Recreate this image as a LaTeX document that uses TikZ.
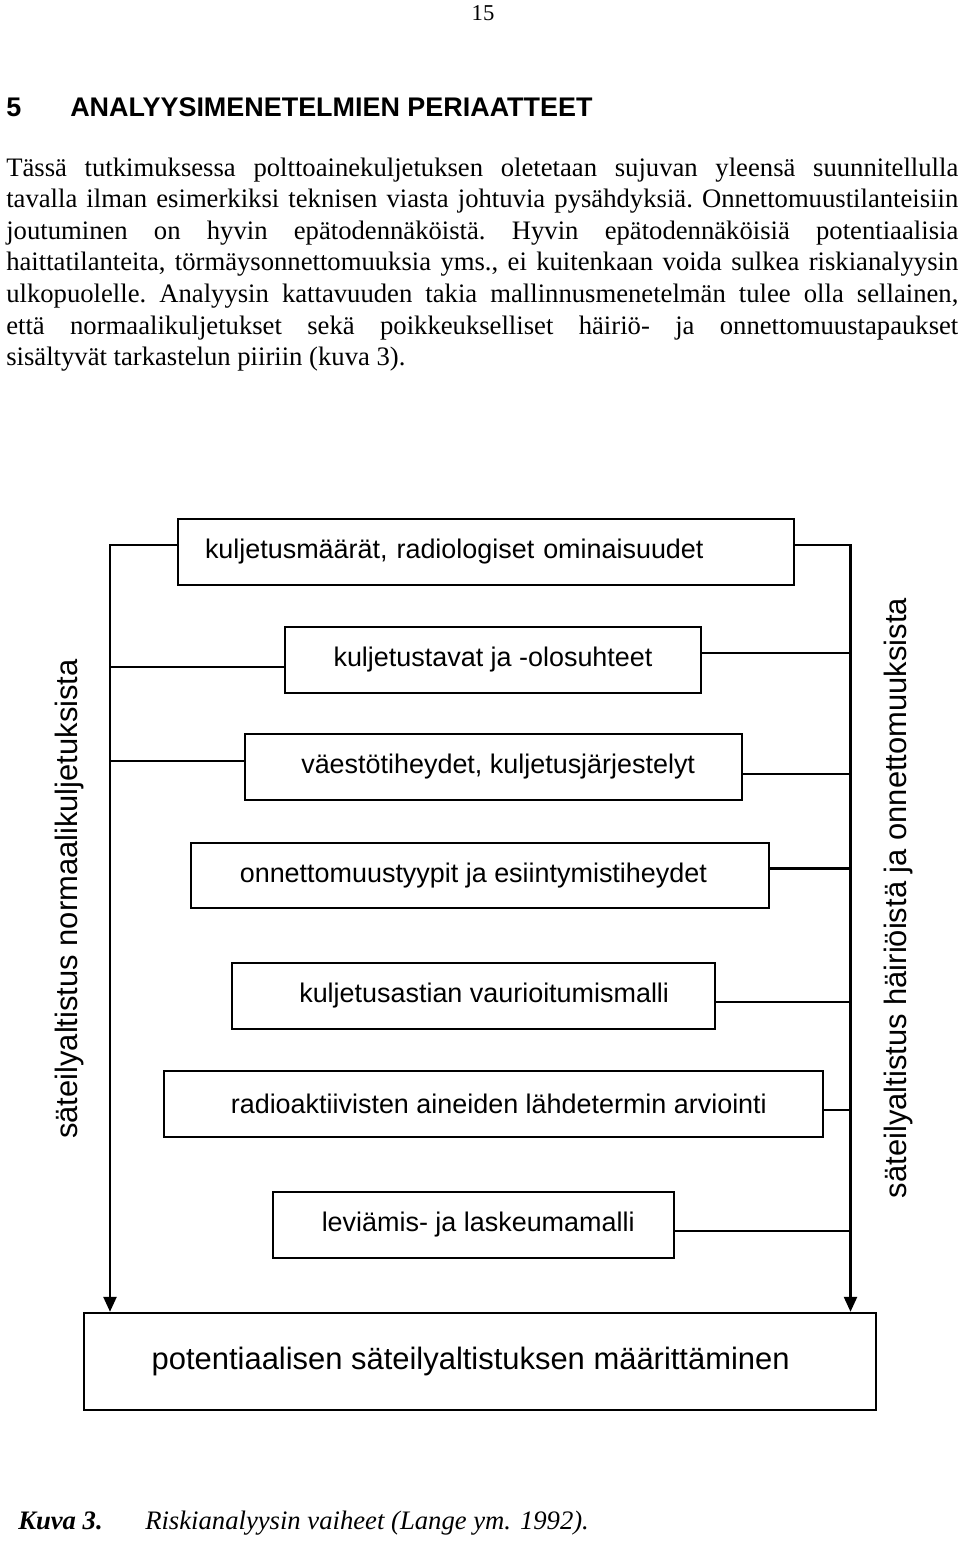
\documentclass[tikz,border=0pt]{standalone}
\usepackage{fontspec}
\setmainfont{Liberation Serif}
\setsansfont{Liberation Sans}
\usetikzlibrary{arrows.meta}

\newcommand\bodyfont{\rmfamily\fontsize{20}{23.7}\selectfont}
\newcommand\stagefont{\sffamily\fontsize{20.2}{24}\selectfont}
\newcommand\bigsffont{\sffamily\fontsize{23.2}{28}\selectfont}

\tikzset{
  stage/.style={draw, line width=1.8pt, minimum height=49.5pt, inner sep=0pt, font=\stagefont},
  link/.style={line width=1.8pt},
  rail/.style={line width=1.8pt, -{Triangle[length=11.25pt,width=9.75pt]}},
  railtext/.style={rotate=90, font=\bigsffont, inner sep=0pt},
  plain/.style={anchor=base west, inner sep=0pt},
}

\begin{document}
\begin{tikzpicture}[x=0.75pt,y=0.75pt,yscale=-1,xscale=1]
\fill[white] (0,0) rectangle (960,1541);
\useasboundingbox (0,0) rectangle (960,1541);

% Text Node
\node[anchor=base, inner sep=0pt, font=\rmfamily\fontsize{17}{20}\selectfont] (pageno) at (483,21) {15};
% Text Node
\node[plain, font=\sffamily\bfseries\fontsize{20.2}{24}\selectfont] (secno) at (6,117) {5};
\node[plain, font=\sffamily\bfseries\fontsize{20.2}{24}\selectfont] (sectitle) at (70,117) {ANALYYSIMENETELMIEN PERIAATTEET};
% Text Node
\node[plain, font=\bodyfont, text width=714pt, align=justify] (para) at (6,176) {\frenchspacing
Tässä tutkimuksessa polttoainekuljetuksen oletetaan sujuvan yleensä suunnitellulla\linebreak
tavalla ilman esimerkiksi teknisen viasta johtuvia pysähdyksiä. Onnettomuustilanteisiin\linebreak
joutuminen on hyvin epätodennäköistä. Hyvin epätodennäköisiä potentiaalisia\linebreak
haittatilanteita, törmäysonnettomuuksia yms., ei kuitenkaan voida sulkea riskianalyysin\linebreak
ulkopuolelle. Analyysin kattavuuden takia mallinnusmenetelmän tulee olla sellainen,\linebreak
että normaalikuljetukset sekä poikkeukselliset häiriö- ja onnettomuustapaukset\linebreak
sisältyvät tarkastelun piiriin (kuva 3).};

%Shape: Rectangle
\node[stage, minimum width=462pt, text width=421.5pt, align=left, inner xsep=20.25pt] (b1) at (486,552) {kuljetusmäärät, radiologiset ominaisuudet};
\node[stage, minimum width=312pt] (b2) at (493,660) {kuljetustavat ja -olosuhteet};
\node[stage, minimum width=372.75pt] (b3) at (493.5,767) {\hspace*{7pt}väestötiheydet, kuljetusjärjestelyt};
\node[stage, minimum width=433.5pt, minimum height=48.75pt] (b4) at (480,875.5) {onnettomuustyypit ja esiintymistiheydet\hspace*{10pt}};
\node[stage, minimum width=362.25pt] (b5) at (473.5,996) {\hspace*{16pt}kuljetusastian vaurioitumismalli};
\node[stage, minimum width=494.25pt] (b6) at (493.5,1104) {\hspace*{8pt}radioaktiivisten aineiden lähdetermin arviointi};
\node[stage, minimum width=300.75pt] (b7) at (473.5,1225) {\hspace*{7pt}leviämis- ja laskeumamalli};
\node[stage, minimum width=594pt, minimum height=72.75pt, font=\bigsffont] (out) at (480,1361.5) {potentiaalisen säteilyaltistuksen määrittäminen\hspace*{14pt}};

% Text Node
\node[railtext] (normal) at (70,899) {säteilyaltistus normaalikuljetuksista};
\node[railtext] (accident) at (898,898) {säteilyaltistus häiriöistä ja onnettomuuksista};

%Straight Lines
\coordinate (lrail) at (110,0);
\coordinate (rrail) at (850.5,0);
\path (b1.west) ++(0,-7) coordinate (b1l);
\path (b1.east) ++(0,-7) coordinate (b1r);
\draw[rail] (b1l) -| (out.north -| lrail);
\draw[rail] (b1r) -| (out.north -| rrail);
\foreach \n/\dy in {b2/7, b3/-6} {
  \path (\n.west) ++(0,\dy) coordinate (p);
  \draw[link] (p) -- (p -| lrail);
}
\foreach \n/\dy in {b2/-7, b3/7, b4/-7, b5/6, b6/6, b7/6} {
  \path (\n.east) ++(0,\dy) coordinate (p);
  \draw[link] (p) -- (p -| rrail);
}

% Text Node
\node[plain, font=\rmfamily\bfseries\itshape\fontsize{20}{24}\selectfont] (capno) at (18,1529) {Kuva 3.};
\node[plain, font=\rmfamily\itshape\fontsize{20}{24}\selectfont] (captext) at (145,1529) {Riskianalyysin vaiheet (Lange ym. 1992).};

\end{tikzpicture}
\end{document}
